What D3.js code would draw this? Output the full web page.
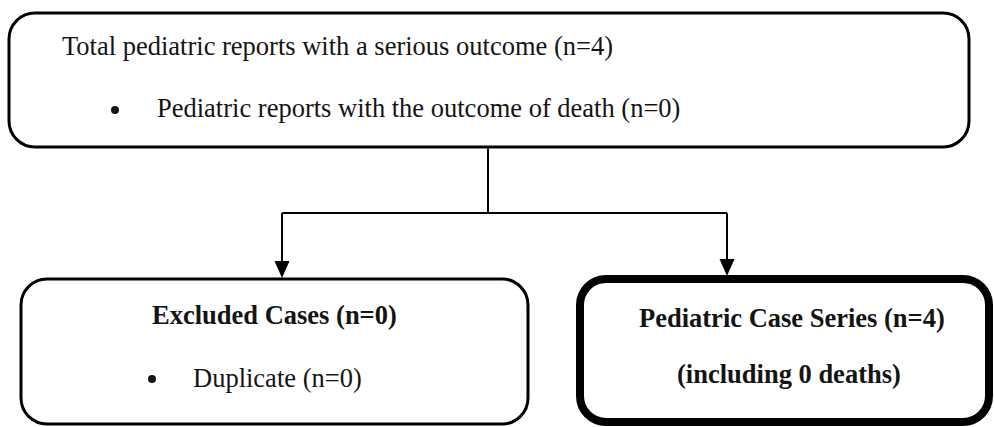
<!DOCTYPE html>
<html lang="en">
<head>
    <meta charset="UTF-8">
    <title>Pediatric case series flow</title>
    <script src="https://d3js.org/d3.v7.min.js"></script>
    <style>
        body { margin: 0; background: #fff; }
    </style>
</head>
<body>
<script>
    // counts shown in the flow
    var totalSerious = 4;
    var totalDeaths = 0;
    var excludedCases = 0;
    var duplicateCases = 0;
    var caseSeries = 4;
    var caseSeriesDeaths = 0;

    var width = 994;
    var height = 427;

    var svg = d3.select("body")
        .append("svg")
        .attr("width", width)
        .attr("height", height);

    // boxes: x0,y0,x1,y1 of the stroke centre line
    var boxes = [
        {id: "top", x0: 9, y0: 13, x1: 969, y1: 147, sw: 3, r: 26},
        {id: "excl", x0: 21, y0: 279, x1: 528, y1: 424, sw: 3, r: 26},
        {id: "series", x0: 580, y0: 279, x1: 989, y1: 422, sw: 8, r: 26}
    ];

    svg.selectAll("rect.box")
        .data(boxes)
        .enter()
        .append("rect")
        .attr("class", "box")
        .attr("x", d => d.x0)
        .attr("y", d => d.y0)
        .attr("width", d => d.x1 - d.x0)
        .attr("height", d => d.y1 - d.y0)
        .attr("rx", d => d.r)
        .attr("ry", d => d.r)
        .attr("fill", "none")
        .attr("stroke", "#000")
        .attr("stroke-width", d => d.sw);

    // connector lines
    var trunkX = 488, splitY = 213, leftX = 282, rightX = 727;
    var path = d3.path();
    path.moveTo(trunkX, 148.5);
    path.lineTo(trunkX, splitY);
    path.moveTo(leftX, splitY);
    path.lineTo(rightX, splitY);
    path.moveTo(leftX, splitY);
    path.lineTo(leftX, 262);
    path.moveTo(rightX, splitY);
    path.lineTo(rightX, 260);
    svg.append("path")
        .attr("d", path.toString())
        .attr("fill", "none")
        .attr("stroke", "#000")
        .attr("stroke-width", 2);

    var heads = [{x: leftX, y: 278}, {x: rightX, y: 276}];
    svg.selectAll("path.head")
        .data(heads)
        .enter()
        .append("path")
        .attr("class", "head")
        .attr("d", d => "M" + (d.x - 7.5) + "," + (d.y - 17) + "L" + (d.x + 7.5) + "," + (d.y - 17) + "L" + d.x + "," + d.y + "Z")
        .attr("fill", "#000");

    // text lines
    var lines = [
        {t: "Total pediatric reports with a serious outcome (n=" + totalSerious + ")", x: 62, y: 55, bold: false},
        {t: "Pediatric reports with the outcome of death (n=" + totalDeaths + ")", x: 157, y: 117, bold: false},
        {t: "Excluded Cases (n=" + excludedCases + ")", x: 152, y: 324, bold: true},
        {t: "Duplicate (n=" + duplicateCases + ")", x: 193, y: 387, bold: false},
        {t: "Pediatric Case Series (n=" + caseSeries + ")", x: 639, y: 327, bold: true},
        {t: "(including " + caseSeriesDeaths + " deaths)", x: 677, y: 383, bold: true}
    ];
    svg.selectAll("text")
        .data(lines)
        .enter()
        .append("text")
        .attr("x", d => d.x)
        .attr("y", d => d.y)
        .attr("font-family", "'Liberation Serif', 'Times New Roman', serif")
        .attr("font-size", 26.5)
        .attr("fill", "#141414")
        .attr("font-weight", d => d.bold ? "bold" : "normal")
        .text(d => d.t);

    var bullets = [{x: 115, y: 110}, {x: 152, y: 379}];
    svg.selectAll("circle")
        .data(bullets)
        .enter()
        .append("circle")
        .attr("cx", d => d.x)
        .attr("cy", d => d.y)
        .attr("r", 4)
        .attr("fill", "#141414");
</script>
</body>
</html>
